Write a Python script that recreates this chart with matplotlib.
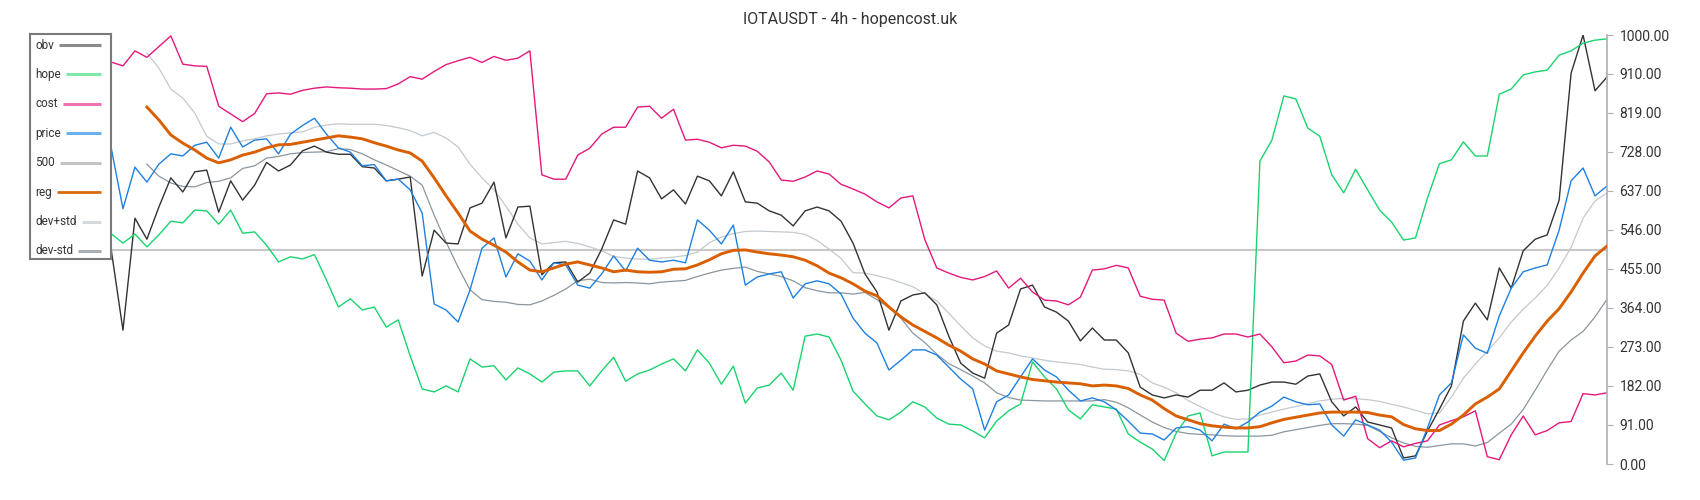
import numpy as np
import matplotlib
matplotlib.use('Agg')
import matplotlib.pyplot as plt
from matplotlib.ticker import FormatStrFormatter

plt.rcParams['font.family'] = ['Roboto', 'DejaVu Sans']

nan = np.nan

title = 'IOTAUSDT - 4h - hopencost.uk'
y_ticks = [0, 91, 182, 273, 364, 455, 546, 637, 728, 819, 910, 1000]
level_500 = 500

obv = [503, 312, 573, 524, 599, 667, 634, 681, 685, 587,
       660, 615, 650, 703, 683, 697, 730, 741, 727, 722,
       722, 693, 690, 660, 664, 669, 438, 545, 515, 513,
       597, 608, 657, 527, 599, 601, 441, 469, 471, 424,
       445, 501, 569, 559, 683, 667, 618, 639, 606, 671,
       660, 625, 681, 611, 608, 590, 580, 555, 590, 599,
       590, 566, 515, 443, 401, 312, 380, 394, 399, 371,
       298, 235, 212, 200, 305, 324, 408, 417, 366, 354,
       333, 287, 317, 289, 289, 259, 179, 161, 154, 161,
       156, 172, 172, 189, 168, 172, 184, 191, 191, 186,
       205, 210, 145, 112, 133, 98, 91, 84, 14, 19,
       77, 128, 182, 333, 375, 336, 457, 410, 497, 524,
       534, 615, 911, 1000, 870, 902]

hope = [537, 515, 536, 506, 534, 566, 562, 592, 590, 559,
        592, 538, 541, 510, 471, 483, 478, 488, 429, 366,
        385, 359, 366, 319, 336, 252, 175, 168, 182, 168,
        245, 226, 229, 196, 224, 210, 191, 214, 217, 217,
        182, 217, 249, 193, 210, 219, 233, 245, 217, 266,
        235, 186, 228, 142, 177, 184, 212, 172, 298, 303,
        296, 242, 170, 140, 112, 103, 121, 145, 133, 107,
        93, 91, 77, 61, 100, 124, 140, 238, 203, 175,
        126, 105, 138, 133, 128, 70, 51, 35, 8, 72,
        112, 119, 19, 28, 28, 28, 706, 755, 858, 851,
        783, 764, 674, 632, 687, 639, 592, 564, 522, 527,
        620, 700, 709, 751, 718, 718, 862, 874, 907, 914,
        918, 953, 963, 981, 988, 991]

cost = [937, 928, 963, 948, 973, 998, 932, 928, 927, 834,
        816, 798, 817, 863, 865, 862, 871, 876, 879, 877,
        876, 874, 874, 875, 886, 903, 897, 915, 931, 940,
        948, 936, 950, 941, 946, 963, 674, 664, 664, 720,
        736, 769, 785, 785, 832, 834, 806, 827, 755, 757,
        750, 737, 743, 741, 729, 704, 662, 659, 669, 683,
        676, 652, 641, 629, 611, 597, 620, 625, 523, 457,
        445, 435, 429, 437, 450, 410, 433, 401, 382, 380,
        371, 389, 452, 455, 463, 457, 391, 384, 382, 305,
        286, 291, 294, 303, 303, 296, 303, 273, 236, 240,
        254, 252, 232, 149, 158, 59, 38, 54, 40, 48,
        54, 91, 101, 110, 124, 17, 10, 68, 112, 68,
        78, 96, 99, 164, 161, 166]

price = [739, 595, 692, 657, 699, 723, 718, 743, 750, 713,
         785, 739, 755, 758, 723, 769, 789, 806, 769, 737,
         727, 695, 698, 660, 664, 639, 585, 373, 359, 331,
         406, 503, 527, 436, 490, 473, 429, 469, 464, 417,
         410, 443, 485, 450, 503, 475, 471, 475, 469, 569,
         545, 513, 557, 417, 436, 443, 448, 387, 420, 427,
         420, 396, 340, 305, 282, 219, 242, 266, 266, 254,
         226, 198, 175, 79, 145, 161, 203, 245, 219, 203,
         172, 147, 154, 145, 126, 100, 72, 70, 56, 84,
         87, 79, 54, 93, 82, 98, 121, 135, 156, 145,
         138, 140, 91, 65, 103, 91, 79, 51, 9, 14,
         84, 161, 189, 301, 270, 258, 345, 410, 448, 457,
         464, 545, 660, 690, 625, 648]

reg = [nan, nan, nan, 832, 802, 767, 748, 732, 713, 702,
       709, 720, 727, 737, 744, 745, 750, 755, 760, 765,
       762, 758, 749, 741, 732, 725, 706, 667, 625, 585,
       543, 524, 510, 494, 471, 452, 448, 457, 466, 471,
       464, 457, 448, 452, 448, 447, 448, 454, 455, 464,
       476, 490, 498, 499, 494, 490, 487, 483, 475, 462,
       445, 434, 420, 403, 392, 366, 343, 324, 309, 294,
       277, 263, 245, 233, 217, 210, 203, 197, 194, 191,
       189, 187, 182, 184, 182, 176, 161, 149, 129, 112,
       103, 94, 89, 86, 84, 84, 87, 96, 104, 109,
       114, 119, 121, 121, 121, 120, 114, 110, 92, 82,
       78, 78, 93, 114, 140, 156, 175, 217, 259, 298,
       333, 362, 401, 445, 485, 508]

dev_plus = [nan, nan, nan, 958, 923, 874, 853, 818, 764, 746,
            746, 753, 758, 765, 769, 772, 774, 785, 790, 793,
            792, 792, 792, 789, 784, 777, 765, 773, 760, 739,
            699, 667, 639, 601, 559, 527, 513, 516, 519, 514,
            506, 497, 484, 480, 478, 477, 480, 482, 486, 494,
            516, 529, 537, 542, 543, 542, 541, 540, 535, 521,
            501, 479, 446, 445, 439, 432, 423, 413, 397, 380,
            352, 322, 294, 275, 263, 259, 252, 247, 242, 238,
            235, 232, 226, 221, 220, 217, 209, 189, 179, 166,
            148, 134, 120, 110, 104, 105, 114, 121, 128, 134,
            141, 147, 151, 153, 152, 150, 146, 139, 133, 125,
            117, 119, 156, 200, 233, 263, 294, 331, 361, 387,
            416, 457, 505, 573, 613, 632]

dev_minus = [nan, nan, nan, 699, 671, 655, 647, 646, 656, 659,
             667, 689, 695, 713, 717, 723, 726, 727, 728, 735,
             733, 723, 709, 697, 684, 671, 650, 580, 517, 459,
             406, 383, 379, 377, 372, 371, 380, 393, 408, 427,
             431, 423, 422, 423, 422, 420, 424, 426, 428, 437,
             445, 452, 456, 459, 449, 443, 437, 427, 411, 404,
             399, 399, 396, 400, 383, 365, 340, 305, 283, 256,
             234, 220, 205, 189, 166, 155, 149, 148, 147, 147,
             147, 147, 147, 150, 144, 131, 114, 98, 85, 76,
             71, 69, 68, 66, 65, 65, 65, 67, 75, 80,
             85, 90, 94, 94, 93, 90, 76, 61, 49, 41,
             39, 43, 47, 47, 42, 50, 72, 93, 127, 172,
             219, 263, 289, 309, 343, 384]

# (label, values, line colour, width, legend colour)
series = [
    ('dev+std', dev_plus, '#c3c9ce', 0.9, '#d5d9dc'),
    ('dev-std', dev_minus, '#8a969f', 0.9, '#a7afb5'),
    ('obv', obv, '#333333', 1.0, '#8a8a8a'),
    ('hope', hope, '#19d46e', 1.0, '#7fe8a9'),
    ('cost', cost, '#e5187c', 1.0, '#ef72b0'),
    ('price', price, '#1f80e0', 1.0, '#6cb0ee'),
    ('reg', reg, '#d95f00', 2.1, '#d96a10'),
]
legend_order = ['obv', 'hope', 'cost', 'price', '500', 'reg', 'dev+std', 'dev-std']
legend_colors = {s[0]: s[4] for s in series}
legend_colors['500'] = '#c4c4c4'

fig = plt.figure(figsize=(17, 5), dpi=100)
ax = fig.add_axes([111 / 1700, 36 / 500, 1496 / 1700, 429 / 500])
x = np.arange(len(obv))

ax.axhline(level_500, color='#c8c8c8', lw=1.5, zorder=1)
for name, vals, col, lw, _ in series:
    ax.plot(x, vals, color=col, lw=lw, zorder=3 if name == 'reg' else 2)

ax.set_xlim(0, len(obv) - 1)
ax.set_ylim(0, 1000)
for s in ['left', 'top', 'bottom']:
    ax.spines[s].set_visible(False)
ax.spines['right'].set_color('#a9b0b6')
ax.spines['right'].set_linewidth(1.2)
ax.set_xticks([])
ax.yaxis.tick_right()
ax.set_yticks(y_ticks)
ax.yaxis.set_major_formatter(FormatStrFormatter('%.2f'))
ax.tick_params(axis='y', direction='out', length=4, color='#a9b0b6',
               labelcolor='#333333', labelsize=10, pad=5)

fig.text(0.5, 1 - 19.5 / 500, title, ha='center', va='center',
         fontsize=11.5, color='#333333')

# legend box, drawn by hand: label left, line filling to the right edge
lax = fig.add_axes([30 / 1700, (500 - 259) / 500, 81 / 1700, 225 / 500])
lax.set_xlim(0, 81)
lax.set_ylim(225, 0)
lax.set_xticks([])
lax.set_yticks([])
for s in lax.spines.values():
    s.set_color('#7a7a7a')
    s.set_linewidth(1.5)

fig.canvas.draw()
r = fig.canvas.get_renderer()
ys = np.linspace(11, 217, len(legend_order))
for name, yy in zip(legend_order, ys):
    t = lax.text(5, yy, name, ha='left', va='center', fontsize=8.5, color='#333333')
    bb = t.get_window_extent(renderer=r)
    x_end = lax.transData.inverted().transform((bb.x1, bb.y0))[0]
    lw = 2.0 if name == 'reg' else 2.2
    lax.plot([x_end + 5, 71], [yy, yy], color=legend_colors[name], lw=lw,
             solid_capstyle='butt')

fig.savefig('out.png', dpi=100)
